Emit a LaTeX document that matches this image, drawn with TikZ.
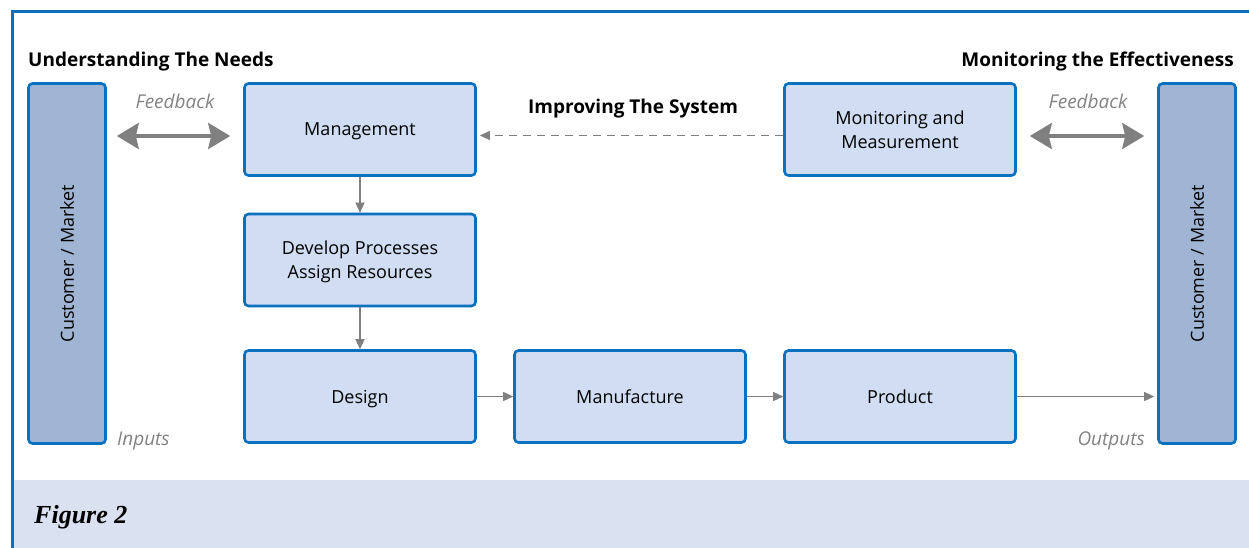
\documentclass[tikz,border=0pt]{standalone}
\usepackage{fontspec}
\setmainfont{Open Sans}
\newfontfamily\captionserif{Liberation Serif}
\usetikzlibrary{arrows.meta,calc}

\definecolor{frameblue}{RGB}{14,110,190}
\definecolor{boxedge}{RGB}{10,112,192}
\definecolor{boxfill}{RGB}{208,221,242}
\definecolor{custfill}{RGB}{160,180,212}
\definecolor{bandfill}{RGB}{218,225,240}
\definecolor{arrowgray}{RGB}{128,128,128}
\definecolor{labelgray}{RGB}{130,130,130}

\begin{document}
\begin{tikzpicture}[x=1pt,y=-1pt,
  stagebox/.style={draw=boxedge, fill=boxfill, line width=2.6pt, rounded corners=4pt,
    minimum width=231pt, minimum height=92pt, inner sep=0pt, align=center,
    text depth=0pt, font=\fontsize{18}{24}\selectfont},
  custbox/.style={draw=boxedge, fill=custfill, line width=2.6pt, rounded corners=4pt,
    minimum width=77pt, minimum height=360pt, inner sep=0pt},
  heading/.style={font=\fontsize{19}{22}\selectfont\bfseries, inner sep=0pt},
  note/.style={font=\fontsize{19}{22}\selectfont\itshape, text=labelgray, inner sep=0pt},
  flow/.style={draw=arrowgray, line width=1.3pt, -{Triangle[length=10pt,width=9pt]}},
  feedback/.style={draw=arrowgray, line width=3.5pt,
    {Stealth[length=22pt,width=26pt,inset=3pt]}-{Stealth[length=22pt,width=26pt,inset=3pt]}},
  improve/.style={draw=arrowgray, line width=1.2pt, dash pattern=on 8pt off 6pt,
    -{Triangle[length=10pt,width=9pt]}}
]
\useasboundingbox (0,0) rectangle (1249,548);

% caption band and frame
\fill[bandfill] (13.5,480) rectangle (1249,548);
\draw[frameblue, line width=2.6pt] (12.3,548) -- (12.3,11.3) -- (1249,11.3);
\node[anchor=west, inner sep=0pt, font=\captionserif\fontsize{26}{30}\selectfont\bfseries\itshape]
  (fig) at (34,517) {Figure 2};

% headings
\node[heading, anchor=west] (hneeds) at (28,61.5) {Understanding The Needs};
\node[heading, anchor=east] (heff) at (1234,61.5) {Monitoring the Effectiveness};
\node[heading] (himp) at (633,108.5) {Improving The System};

% customer / market columns
\node[custbox] (custL) at (67,263.5) {};
\node[rotate=90, font=\fontsize{18}{22}\selectfont] (custLt) at (custL.center) {Customer / Market};
\node[custbox] (custR) at (1197,263.5) {};
\node[rotate=90, font=\fontsize{18}{22}\selectfont] (custRt) at (custR.center) {Customer / Market};

% process stages
\node[stagebox] (mgmt) at (360,129.5) {Management};
\node[stagebox] (dev) at (360,260) {Develop Processes\\Assign Resources};
\node[stagebox] (design) at (360,396.5) {Design};
\node[stagebox] (manu) at (630,396.5) {Manufacture};
\node[stagebox] (prod) at (900,396.5) {Product};
\node[stagebox] (mon) at (900,129.5) {Monitoring and\\Measurement};

% side labels
\node[note] (fbL) at (175,101) {Feedback};
\node[note] (fbR) at (1088,101) {Feedback};
\node[note, anchor=west] (inp) at (117,440.5) {Inputs};
\node[note, anchor=east] (outp) at (1145,440.5) {Outputs};

% connectors
\draw[flow] (mgmt) -- (dev);
\draw[flow] (dev) -- (design);
\draw[flow] (design) -- (manu);
\draw[flow] (manu) -- (prod);
\draw[flow, shorten >=3pt] (prod.east) -- (custR.west |- prod.east);
\draw[improve, shorten >=3pt] ($(mon.west)+(0,6)$) -- ($(mgmt.east)+(0,6)$);
\draw[feedback] ($(custL.east |- mgmt.west)+(10,6.5)$) -- ($(mgmt.west)+(-13,6.5)$);
\draw[feedback] ($(mon.east)+(13,6.5)$) -- ($(custR.west |- mon.east)+(-13,6.5)$);
\end{tikzpicture}
\end{document}
